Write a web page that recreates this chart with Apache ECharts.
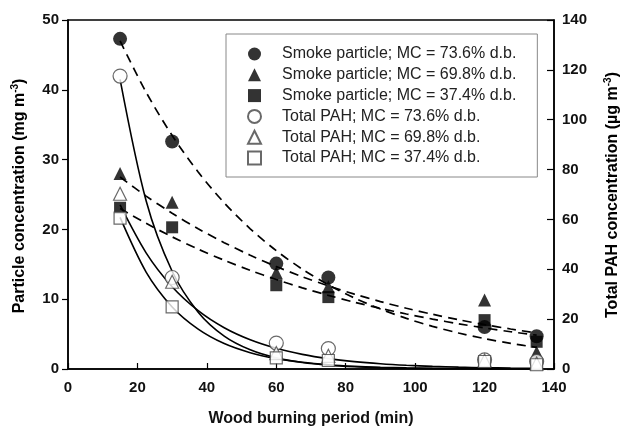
<!DOCTYPE html>
<html>
<head>
<meta charset="utf-8">
<script src="https://cdn.jsdelivr.net/npm/echarts@6/dist/echarts.min.js"></script>
<style>
  html, body { margin: 0; padding: 0; background: #fff; }
  #chart { width: 625px; height: 426px; }
</style>
</head>
<body>
<div id="chart"></div>
<script>
// Sampling times (min)
const periods = [15, 30, 60, 75, 120, 135];

// Smoke particle concentration, mg m-3 (left axis)
const smokeMC736 = [47.3, 32.6, 15.1, 13.1, 6.0, 4.7];
const smokeMC698 = [28.0, 23.9, 13.8, 11.8, 9.9, 2.4];
const smokeMC374 = [23.1, 20.3, 12.0, 10.3, 7.0, 3.9];

// Total PAH concentration, ug m-3 (right axis)
const pahMC736 = [117.5, 36.7, 10.4, 8.2, 3.7, 3.0];
const pahMC698 = [70.3, 35.0, 6.4, 5.3, 3.4, 2.2];
const pahMC374 = [60.5, 24.9, 4.5, 3.4, 3.0, 1.7];

// Fitted decay curves, sampled every 7.5 min
const curveX = [15, 22.5, 30, 37.5, 45, 52.5, 60, 67.5, 75, 82.5, 90, 97.5, 105, 112.5, 120, 127.5, 135];
const curveSmoke736 = [47.0, 39.65, 33.45, 28.22, 23.81, 20.09, 16.95, 14.30, 12.07, 10.18, 8.59, 7.25, 6.11, 5.16, 4.35, 3.67, 3.10];
const curveSmoke698 = [27.5, 24.77, 22.31, 20.09, 18.10, 16.30, 14.68, 13.22, 11.91, 10.73, 9.66, 8.70, 7.84, 7.06, 6.36, 5.73, 5.16];
const curveSmoke374 = [23.0, 20.87, 18.93, 17.17, 15.58, 14.13, 12.82, 11.63, 10.55, 9.57, 8.69, 7.88, 7.15, 6.48, 5.88, 5.34, 4.84];
const curvePah736 = [116.2, 67.5, 39.2, 22.8, 13.2, 7.7, 4.47, 2.60, 1.51, 0.88, 0.51, 0.30, 0.17, 0.10, 0.06, 0.03, 0.02];
const curvePah698 = [65.8, 46.6, 33.0, 23.4, 16.55, 11.72, 8.30, 5.88, 4.16, 2.95, 2.09, 1.48, 1.05, 0.74, 0.52, 0.37, 0.26];
const curvePah374 = [60.8, 38.9, 24.9, 16.0, 10.2, 6.55, 4.20, 2.69, 1.72, 1.10, 0.71, 0.45, 0.29, 0.19, 0.12, 0.08, 0.05];

// Axis ranges and tick steps
const xTicks = { min: 0, max: 140, step: 20 };
const leftTicks = { min: 0, max: 50, step: 10 };
const rightTicks = { min: 0, max: 140, step: 20 };

const legendNames = [
  'Smoke particle; MC = 73.6% d.b.',
  'Smoke particle; MC = 69.8% d.b.',
  'Smoke particle; MC = 37.4% d.b.',
  'Total PAH; MC = 73.6% d.b.',
  'Total PAH; MC = 69.8% d.b.',
  'Total PAH; MC = 37.4% d.b.'
];

const FONT = '"Liberation Sans", Arial, Helvetica, sans-serif';
const pair = (xs, ys) => xs.map((x, i) => [x, ys[i]]);

const filled = { color: '#000' };
const open = { color: '#fff', borderColor: '#444', borderWidth: 1.2 };

function marks(name, ys, symbol, size, style, axis) {
  return {
    name, type: 'scatter', yAxisIndex: axis, data: pair(periods, ys),
    symbol, symbolSize: size, itemStyle: style, z: 5,
    emphasis: { disabled: true }
  };
}
function curve(ys, axis, dashed) {
  return {
    type: 'line', yAxisIndex: axis, data: pair(curveX, ys),
    symbol: 'none', smooth: 0.3, z: 3,
    lineStyle: { color: '#000', width: dashed ? 1.7 : 1.6, type: dashed ? [9, 6] : 'solid' },
    silent: true
  };
}

const axisLabel = { fontFamily: FONT, fontWeight: 'bold', fontSize: 15, color: '#111' };
const supRich = {
  base: { fontFamily: FONT, fontWeight: 'bold', fontSize: 16, color: '#111', lineHeight: 20 },
  sup: { fontFamily: FONT, fontWeight: 'bold', fontSize: 10, color: '#111', verticalAlign: 'top', lineHeight: 20, padding: [0, 0, 8, 0] }
};

const chart = echarts.init(document.getElementById('chart'), null, { renderer: 'canvas' });
chart.setOption({
  animation: false,
  backgroundColor: '#fff',
  grid: { left: 68, right: 71, top: 20, bottom: 57, show: true, borderColor: '#000', borderWidth: 1.5, backgroundColor: 'transparent' },
  legend: {
    data: legendNames,
    orient: 'vertical',
    left: 226, top: 34,
    padding: [12, 21, 11, 21],
    itemWidth: 13, itemHeight: 13, itemGap: 4.8,
    borderColor: '#888', borderWidth: 1,
    selectedMode: false,
    textStyle: { fontFamily: FONT, fontSize: 16, color: '#222', padding: [0, 0, 0, 16] }
  },
  xAxis: {
    type: 'value', min: xTicks.min, max: xTicks.max, interval: xTicks.step,
    axisLine: { lineStyle: { color: '#000', width: 1.5 } },
    axisTick: { inside: true, length: 6, lineStyle: { color: '#000', width: 1.2 } },
    axisLabel: Object.assign({ margin: 11 }, axisLabel),
    splitLine: { show: false }
  },
  yAxis: [
    {
      type: 'value', min: leftTicks.min, max: leftTicks.max, interval: leftTicks.step,
      axisLine: { show: true, lineStyle: { color: '#000', width: 1.5 } },
      axisTick: { show: true, inside: false, length: 6, lineStyle: { color: '#000', width: 1.2 } },
      axisLabel: Object.assign({ margin: 9 }, axisLabel),
      splitLine: { show: false }
    },
    {
      type: 'value', position: 'right', min: rightTicks.min, max: rightTicks.max, interval: rightTicks.step,
      axisLine: { show: true, lineStyle: { color: '#000', width: 1.5 } },
      axisTick: { show: true, inside: true, length: 7, lineStyle: { color: '#000', width: 1.2 } },
      axisLabel: Object.assign({ margin: 8 }, axisLabel),
      splitLine: { show: false }
    }
  ],
  graphic: [
    {
      type: 'text', x: 311, y: 419,
      style: { text: 'Wood burning period (min)', fontFamily: FONT, fontWeight: 'bold', fontSize: 16, fill: '#111', align: 'center', verticalAlign: 'middle' }
    },
    {
      type: 'text', x: 20, y: 196, rotation: Math.PI / 2,
      style: { text: '{base|Particle concentration (mg m}{sup|-3}{base|)}', rich: supRich, align: 'center', verticalAlign: 'middle' }
    },
    {
      type: 'text', x: 613, y: 195, rotation: Math.PI / 2,
      style: { text: '{base|Total PAH concentration (\u00b5g m}{sup|-3}{base|)}', rich: supRich, align: 'center', verticalAlign: 'middle' }
    }
  ],
  series: [
    curve(curveSmoke736, 0, true),
    curve(curveSmoke698, 0, true),
    curve(curveSmoke374, 0, true),
    curve(curvePah736, 1, false),
    curve(curvePah698, 1, false),
    curve(curvePah374, 1, false),
    marks(legendNames[0], smokeMC736, 'circle', 14, filled, 0),
    marks(legendNames[1], smokeMC698, 'triangle', 13, filled, 0),
    marks(legendNames[2], smokeMC374, 'rect', 12, filled, 0),
    marks(legendNames[3], pahMC736, 'circle', 14, open, 1),
    marks(legendNames[4], pahMC698, 'triangle', 13, open, 1),
    marks(legendNames[5], pahMC374, 'rect', 12, open, 1)
  ]
});
</script>
</body>
</html>
